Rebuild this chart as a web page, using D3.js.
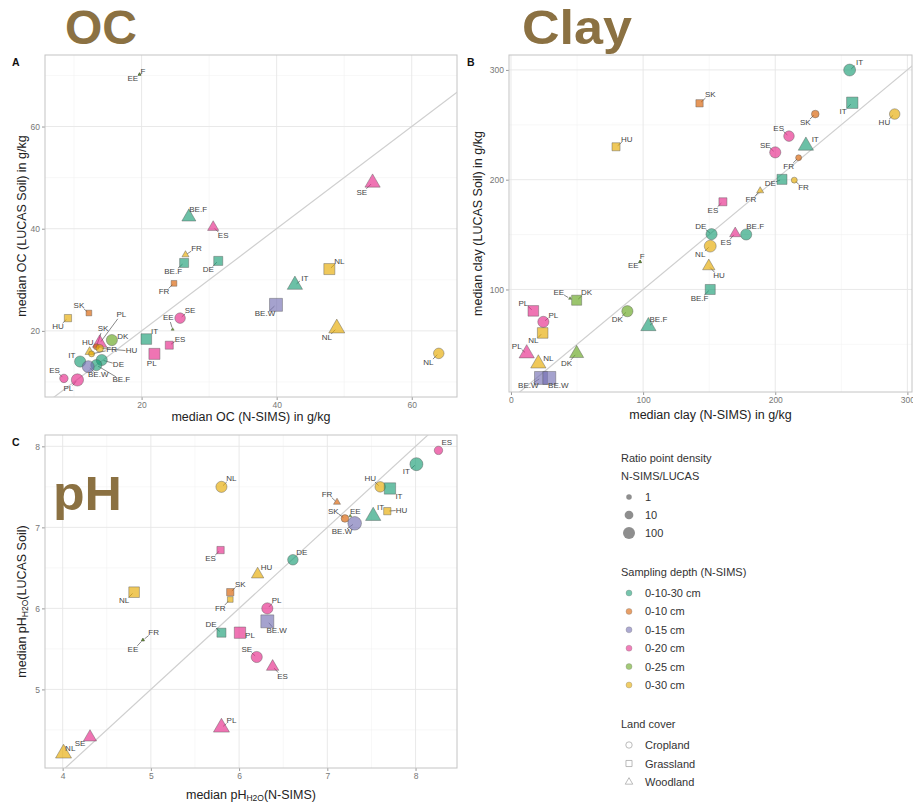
<!DOCTYPE html>
<html><head><meta charset="utf-8">
<script src="https://cdn.jsdelivr.net/npm/d3@7"></script>
<style>body{margin:0;background:#fff;} text{font-family:"Liberation Sans",Arial,sans-serif;}</style>
</head><body><svg id="c" width="913" height="805"></svg>
<script>
// ---------- legend levels ----------
const depthLevels = ["0-10-30 cm","0-10 cm","0-15 cm","0-20 cm","0-25 cm","0-30 cm"];
const depthColors = ["#1b9e77","#d95f02","#7570b3","#e7298a","#66a61e","#e6ab02"];
const coverLevels = ["Cropland","Grassland","Woodland"];
const sizeBreaks = [1,10,100];

// ---------- Panel A : OC ----------
const ocCountry = ["EE","F","SE","BE.F","ES","FR","BE.F","DE","FR","NL","IT","BE.W","NL","NL","SK","HU","SE","EE","ES","IT","PL","PL","SK","DK","HU","HU","FR","IT","DE","BE.F","BE.W","ES","PL"];
const ocDepth = ["0-25 cm","0-25 cm","0-20 cm","0-10-30 cm","0-20 cm","0-30 cm","0-10-30 cm","0-10-30 cm","0-10 cm","0-30 cm","0-10-30 cm","0-15 cm","0-30 cm","0-30 cm","0-10 cm","0-30 cm","0-20 cm","0-25 cm","0-20 cm","0-10-30 cm","0-20 cm","0-20 cm","0-10 cm","0-25 cm","0-30 cm","0-30 cm","0-30 cm","0-10-30 cm","0-10-30 cm","0-10-30 cm","0-15 cm","0-20 cm","0-20 cm"];
const ocCover = ["Woodland","Woodland","Woodland","Woodland","Woodland","Woodland","Grassland","Grassland","Grassland","Grassland","Woodland","Grassland","Woodland","Cropland","Grassland","Grassland","Cropland","Woodland","Grassland","Grassland","Grassland","Woodland","Cropland","Cropland","Woodland","Cropland","Cropland","Cropland","Cropland","Cropland","Cropland","Cropland","Cropland"];
const ocRatio = [0.1,0.1,100,50,10,1,10,10,1,40,100,150,150,20,1,3,20,0.1,5,30,40,60,1,30,3,3,1,30,30,30,50,5,60];
const ocNSIMS = [19.7,19.7,54.2,27.0,30.6,26.5,26.3,31.35,24.8,47.8,42.7,39.9,48.9,64.0,12.2,9.1,25.7,24.6,24.1,20.7,21.9,13.8,13.3,15.6,12.3,13.8,12.6,10.9,14.1,13.3,12.1,8.5,10.5];
const ocLUCAS = [70.2,70.2,49.0,42.3,40.3,34.9,33.3,33.7,29.3,32.1,29.0,25.1,20.5,15.6,23.5,22.5,22.5,20.3,17.2,18.4,15.5,17.6,16.9,18.2,15.9,16.6,15.5,14.0,14.3,13.3,13.0,10.7,10.4];
// label placement (repel result, px offsets from point)
const ocLabelDx = [-6.7,3.3,-10.7,9.3,10,11,-11,-10,-10,10,10,-11,-10,-10.3,-10,-10,10,-4.3,10.7,8.3,-2.7,21.7,6.7,11,-1.7,31.7,20,-8.3,16.7,25,10,-9.3,-9];
const ocLabelDy = [4.3,-3.3,9.3,-7.3,8.3,-6,8.3,9,8.3,-7.7,-6.7,9,9,9,-7.3,8.3,-7.3,-12,-6,-7.7,9.3,-28.3,-18.3,-3.3,-9,2.7,-4,-5.7,4.3,14.3,8.3,-7.7,9];

// ---------- Panel B : Clay ----------
const clayCountry = ["IT","SK","IT","SK","HU","HU","ES","IT","SE","FR","DE","FR","FR","ES","DE","ES","BE.F","NL","EE","F","HU","BE.F","EE","DK","PL","DK","PL","BE.F","NL","PL","DK","NL","BE.W","BE.W"];
const clayDepth = ["0-10-30 cm","0-10 cm","0-10-30 cm","0-10 cm","0-30 cm","0-30 cm","0-20 cm","0-10-30 cm","0-20 cm","0-10 cm","0-10-30 cm","0-30 cm","0-30 cm","0-20 cm","0-10-30 cm","0-20 cm","0-10-30 cm","0-30 cm","0-25 cm","0-25 cm","0-30 cm","0-10-30 cm","0-25 cm","0-25 cm","0-20 cm","0-25 cm","0-20 cm","0-10-30 cm","0-30 cm","0-20 cm","0-25 cm","0-30 cm","0-15 cm","0-15 cm"];
const clayCover = ["Cropland","Grassland","Grassland","Cropland","Cropland","Grassland","Cropland","Woodland","Cropland","Cropland","Grassland","Cropland","Woodland","Grassland","Cropland","Woodland","Cropland","Cropland","Woodland","Woodland","Woodland","Grassland","Woodland","Grassland","Grassland","Cropland","Cropland","Woodland","Grassland","Woodland","Woodland","Woodland","Grassland","Grassland"];
const clayRatio = [50,3,50,3,20,5,20,100,30,1,20,1,1,5,30,10,30,50,0.1,0.1,20,20,0.1,20,30,30,30,100,30,100,50,100,150,150];
const clayNSIMS = [256.3,142.7,258.3,230.3,290.4,79.5,210.4,223.2,200.0,217.7,205.1,214.4,188.6,160.4,151.8,169.7,178.0,150.8,97.7,97.7,149.7,150.8,44.7,49.7,16.9,88.1,24.5,104.0,24.0,11.9,49.7,20.7,22.7,29.0];
const clayLUCAS = [299.9,269.6,270.1,259.8,259.8,230.0,239.7,230.9,224.9,220.0,200.3,199.6,189.9,179.9,150.4,151.0,150.1,139.5,125.2,125.2,121.2,100.0,91.8,90.2,80.5,80.2,70.5,66.5,60.4,41.7,41.7,32.5,19.4,19.4];
const clayLabelDx = [10,10.7,-9.3,-10,-10.3,10.7,-10.3,9.3,-10,-10,-11.7,9.3,-9.3,-10,-10.7,-9.3,9,-10,-6.7,2,10.3,-10.7,-11.3,10,-10,-10,10,10,-9.3,-10,-10,10,-12.7,9];
const clayLabelDy = [-7.3,-8.3,8.3,8.3,8.3,-7.3,-7.7,-6.3,-7.3,8.3,4,7.7,8.3,8.3,-7.3,9.3,-7.7,8,3.3,-5,9.7,9,-5.7,-7.3,-7.3,8.3,-6.7,-6.7,8,-6.7,10,-5,7.3,7.3];

// ---------- Panel C : pH ----------
const phCountry = ["ES","IT","NL","HU","IT","FR","HU","IT","SK","EE","BE.W","DE","ES","HU","SK","FR","NL","PL","BE.W","DE","PL","FR","EE","SE","ES","PL","SE","NL"];
const phDepth = ["0-20 cm","0-10-30 cm","0-30 cm","0-30 cm","0-10-30 cm","0-10 cm","0-30 cm","0-10-30 cm","0-10 cm","0-25 cm","0-15 cm","0-10-30 cm","0-20 cm","0-30 cm","0-10 cm","0-30 cm","0-30 cm","0-20 cm","0-15 cm","0-10-30 cm","0-20 cm","0-25 cm","0-25 cm","0-20 cm","0-20 cm","0-20 cm","0-20 cm","0-30 cm"];
const phCover = ["Cropland","Cropland","Cropland","Cropland","Grassland","Woodland","Grassland","Woodland","Cropland","Woodland","Cropland","Cropland","Grassland","Woodland","Grassland","Grassland","Grassland","Cropland","Grassland","Grassland","Grassland","Woodland","Woodland","Cropland","Woodland","Woodland","Woodland","Woodland"];
const phRatio = [5,100,30,20,50,1,3,100,3,0.1,150,20,3,20,3,1,30,30,150,10,50,0.1,0.1,30,20,150,30,150];
const phNSIMS = [8.26,8.01,5.80,7.60,7.71,7.11,7.68,7.52,7.20,7.26,7.31,6.61,5.79,6.21,5.90,5.90,4.81,6.32,6.32,5.80,6.01,4.91,4.91,6.20,6.38,5.80,4.31,4.01];
const phLUCAS = [7.95,7.78,7.50,7.50,7.48,7.31,7.20,7.14,7.11,7.14,7.05,6.60,6.72,6.42,6.20,6.11,6.20,6.00,5.84,5.70,5.70,5.61,5.61,5.40,5.28,4.53,4.41,4.21];
const phLabelDx = [8.3,-10,10,-10,9,-10,14.3,7.3,-11.7,5,-12.7,9,-10,9,10,-10,-10,9.3,9.3,-10.3,10,10.7,-10,-10,10,10,-10,6.7];
const phLabelDy = [-8,7.3,-8,-8,7.7,-7.7,-1,-8.3,-7.3,-5,8.3,-7.3,8.3,-6.7,-8,9,8.3,-8.3,9,-7.7,2.7,-7.3,9.3,-7.3,9.3,-6.7,6,-5];

// ---------- drawing ----------
const svg = d3.select("#c");
const color = d3.scaleOrdinal().domain(depthLevels).range(depthColors);
const rScale = d3.scaleLog().domain([1,100]).range([3,6.5]);

function shapePath(cover, r){
  if (cover === "Cropland") {
    const p = d3.path(); p.arc(0,0,r,0,2*Math.PI); p.closePath(); return p.toString();
  }
  if (cover === "Grassland") {
    const s = r*0.95;
    return `M${-s},${-s}H${s}V${s}H${-s}Z`;
  }
  const a = r*2.35, h = a*Math.sqrt(3)/2;
  return `M0,${-2*h/3}L${a/2},${h/3}L${-a/2},${h/3}Z`;
}

function drawPanel(cfg){
  const g = svg.append("g");
  const x = d3.scaleLinear().domain(cfg.xDomain).range([cfg.left, cfg.right]);
  const y = d3.scaleLinear().domain(cfg.yDomain).range([cfg.bottom, cfg.top]);
  // grid
  g.selectAll(".mx").data(cfg.xMinor).join("line")
    .attr("x1",d=>x(d)).attr("x2",d=>x(d)).attr("y1",cfg.top).attr("y2",cfg.bottom)
    .attr("stroke","#f2f2f2").attr("stroke-width",0.6);
  g.selectAll(".my").data(cfg.yMinor).join("line")
    .attr("y1",d=>y(d)).attr("y2",d=>y(d)).attr("x1",cfg.left).attr("x2",cfg.right)
    .attr("stroke","#f2f2f2").attr("stroke-width",0.6);
  g.selectAll(".gx").data(cfg.xTicks).join("line")
    .attr("x1",d=>x(d)).attr("x2",d=>x(d)).attr("y1",cfg.top).attr("y2",cfg.bottom)
    .attr("stroke","#e6e6e6").attr("stroke-width",0.9);
  g.selectAll(".gy").data(cfg.yTicks).join("line")
    .attr("y1",d=>y(d)).attr("y2",d=>y(d)).attr("x1",cfg.left).attr("x2",cfg.right)
    .attr("stroke","#e6e6e6").attr("stroke-width",0.9);
  // axes
  const ax = g.append("g").attr("transform",`translate(0,${cfg.bottom})`)
    .call(d3.axisBottom(x).tickValues(cfg.xTicks).tickSize(3).tickPadding(1.5).tickFormat(d3.format("d")));
  const ay = g.append("g").attr("transform",`translate(${cfg.left},0)`)
    .call(d3.axisLeft(y).tickValues(cfg.yTicks).tickSize(3).tickPadding(2).tickFormat(d3.format("d")));
  [ax,ay].forEach(a=>{
    a.select(".domain").remove();
    a.selectAll("line").attr("stroke","#999");
    a.selectAll("text").attr("fill","#777").attr("font-size",8.5).attr("font-family","Liberation Sans, Arial");
  });
  // border
  g.append("rect").attr("x",cfg.left).attr("y",cfg.top)
    .attr("width",cfg.right-cfg.left).attr("height",cfg.bottom-cfg.top)
    .attr("fill","none").attr("stroke","#c4c4c4").attr("stroke-width",1);
  // 1:1 line
  const clipId = "clip"+cfg.letter;
  g.append("clipPath").attr("id",clipId).append("rect")
    .attr("x",cfg.left).attr("y",cfg.top).attr("width",cfg.right-cfg.left).attr("height",cfg.bottom-cfg.top);
  const lo = Math.min(cfg.xDomain[0],cfg.yDomain[0]), hi = Math.max(cfg.xDomain[1],cfg.yDomain[1]);
  g.append("line").attr("clip-path",`url(#${clipId})`)
    .attr("x1",x(lo)).attr("y1",y(lo)).attr("x2",x(hi)).attr("y2",y(hi))
    .attr("stroke","#cfcfcf").attr("stroke-width",1.2);
  // data rows
  const rows = cfg.country.map((c,i)=>({c, depth:cfg.depth[i], cover:cfg.cover[i], ratio:cfg.ratio[i],
    vx:cfg.xs[i], vy:cfg.ys[i], dx:cfg.ldx[i], dy:cfg.ldy[i]}));
  // segments
  rows.forEach(d=>{
    const dist = Math.hypot(d.dx,d.dy);
    if (dist > 12) {
      const ux = d.dx/dist, uy = d.dy/dist;
      g.append("line")
        .attr("x1",x(d.vx)+ux*2).attr("y1",y(d.vy)+uy*2)
        .attr("x2",x(d.vx)+d.dx-ux*6).attr("y2",y(d.vy)+d.dy-uy*5)
        .attr("stroke","#555").attr("stroke-width",0.7);
    }
  });
  // points
  g.selectAll("path.pt").data(rows).join("path").attr("class","pt")
    .attr("transform",d=>`translate(${x(d.vx)},${y(d.vy)})`)
    .attr("d",d=>shapePath(d.cover, rScale(d.ratio)))
    .attr("fill",d=>color(d.depth)).attr("fill-opacity",d=>d.ratio<0.5?0.9:0.65)
    .attr("stroke",d=>d.ratio<0.5?"#444":"#555").attr("stroke-opacity",0.6).attr("stroke-width",0.7);
  // labels
  g.selectAll("text.lb").data(rows).join("text").attr("class","lb")
    .attr("x",d=>x(d.vx)+d.dx).attr("y",d=>y(d.vy)+d.dy)
    .attr("text-anchor","middle").attr("dominant-baseline","central")
    .attr("font-size",8).attr("fill","#444").text(d=>d.c);
  // panel letter
  g.append("text").attr("x",cfg.letterX).attr("y",cfg.top+11).attr("font-size",10.5)
    .attr("font-weight","bold").attr("fill","#111").text(cfg.letter);
  // axis titles
  const xt = g.append("text").attr("x",(cfg.left+cfg.right)/2).attr("y",cfg.xTitleY)
    .attr("text-anchor","middle").attr("font-size",12.5).attr("fill","#222");
  cfg.xTitle.forEach(([t,sub])=>xt.append("tspan").text(t)
    .attr("font-size",sub?8.5:null).attr("baseline-shift",sub?"-25%":null));
  const yt = g.append("text").attr("transform",`translate(${cfg.yTitleX},${(cfg.top+cfg.bottom)/2}) rotate(-90)`)
    .attr("text-anchor","middle").attr("font-size",12.5).attr("fill","#222");
  cfg.yTitle.forEach(([t,sub])=>yt.append("tspan").text(t)
    .attr("font-size",sub?8.5:null).attr("baseline-shift",sub?"-25%":null));
}

drawPanel({letter:"A", letterX:12, left:45, right:457, top:55, bottom:397,
  xDomain:[5.7,66.7], yDomain:[7.06,74], xTicks:[20,40,60], yTicks:[20,40,60],
  xMinor:[10,30,50], yMinor:[10,30,50,70],
  country:ocCountry, depth:ocDepth, cover:ocCover, ratio:ocRatio, xs:ocNSIMS, ys:ocLUCAS, ldx:ocLabelDx, ldy:ocLabelDy,
  xTitle:[["median OC (N-SIMS) in g/kg"]], yTitle:[["median OC (LUCAS Soil) in g/kg"]], xTitleY:421, yTitleX:26});

drawPanel({letter:"B", letterX:467, left:509, right:912, top:55, bottom:392,
  xDomain:[-1.5,303.5], yDomain:[6.6,313.6], xTicks:[0,100,200,300], yTicks:[100,200,300],
  xMinor:[50,150,250], yMinor:[50,150,250],
  country:clayCountry, depth:clayDepth, cover:clayCover, ratio:clayRatio, xs:clayNSIMS, ys:clayLUCAS, ldx:clayLabelDx, ldy:clayLabelDy,
  xTitle:[["median clay (N-SIMS) in g/kg"]], yTitle:[["median clay (LUCAS Soil) in g/kg"]], xTitleY:419, yTitleX:482});

drawPanel({letter:"C", letterX:12, left:45, right:457, top:435, bottom:768,
  xDomain:[3.8,8.47], yDomain:[4.03,8.14], xTicks:[4,5,6,7,8], yTicks:[5,6,7,8],
  xMinor:[4.5,5.5,6.5,7.5], yMinor:[4.5,5.5,6.5,7.5],
  country:phCountry, depth:phDepth, cover:phCover, ratio:phRatio, xs:phNSIMS, ys:phLUCAS, ldx:phLabelDx, ldy:phLabelDy,
  xTitle:[["median pH"],["H2O",true],["(N-SIMS)"]], yTitle:[["median pH"],["H2O",true],["(LUCAS Soil)"]], xTitleY:799, yTitleX:26});

// big variable titles
const bigTitles = [["OC",65,44,72],["Clay",522,44,110],["pH",53,510,69]];
bigTitles.forEach(([t,xx,yy,w])=>{
  svg.append("text").attr("x",xx).attr("y",yy).attr("font-family","Open Sans, DejaVu Sans, sans-serif")
    .attr("font-weight","bold").attr("font-size",48).attr("fill","#8b7142")
    .attr("textLength",w).attr("lengthAdjust","spacingAndGlyphs").text(t);
});

// ---------- legend ----------
const lg = svg.append("g").attr("font-size",11).attr("fill","#333");
const LX = 621, KX = 629, TX = 645;
lg.append("text").attr("x",LX).attr("y",462).text("Ratio point density");
lg.append("text").attr("x",LX).attr("y",480).text("N-SIMS/LUCAS");
const sizeY = [497,515,533];
sizeBreaks.forEach((b,i)=>{
  lg.append("circle").attr("cx",KX).attr("cy",sizeY[i]).attr("r",rScale(b)*0.92).attr("fill","#7a7a7a").attr("fill-opacity",0.85);
  lg.append("text").attr("x",TX).attr("y",sizeY[i]).attr("dominant-baseline","central").text(b);
});
lg.append("text").attr("x",LX).attr("y",576).text("Sampling depth (N-SIMS)");
depthLevels.forEach((d,i)=>{
  const yy = 593 + i*18.4;
  lg.append("circle").attr("cx",KX).attr("cy",yy).attr("r",3).attr("fill",color(d)).attr("fill-opacity",0.6)
    .attr("stroke","#777").attr("stroke-opacity",0.5).attr("stroke-width",0.6);
  lg.append("text").attr("x",TX).attr("y",yy).attr("dominant-baseline","central").text(d);
});
lg.append("text").attr("x",LX).attr("y",728).text("Land cover");
coverLevels.forEach((c,i)=>{
  const yy = 745 + i*18.5;
  lg.append("path").attr("transform",`translate(${KX},${yy})`).attr("d",shapePath(c,3.2))
    .attr("fill","none").attr("stroke","#aaa").attr("stroke-width",0.8);
  lg.append("text").attr("x",TX).attr("y",yy).attr("dominant-baseline","central").text(c);
});
</script></body></html>
